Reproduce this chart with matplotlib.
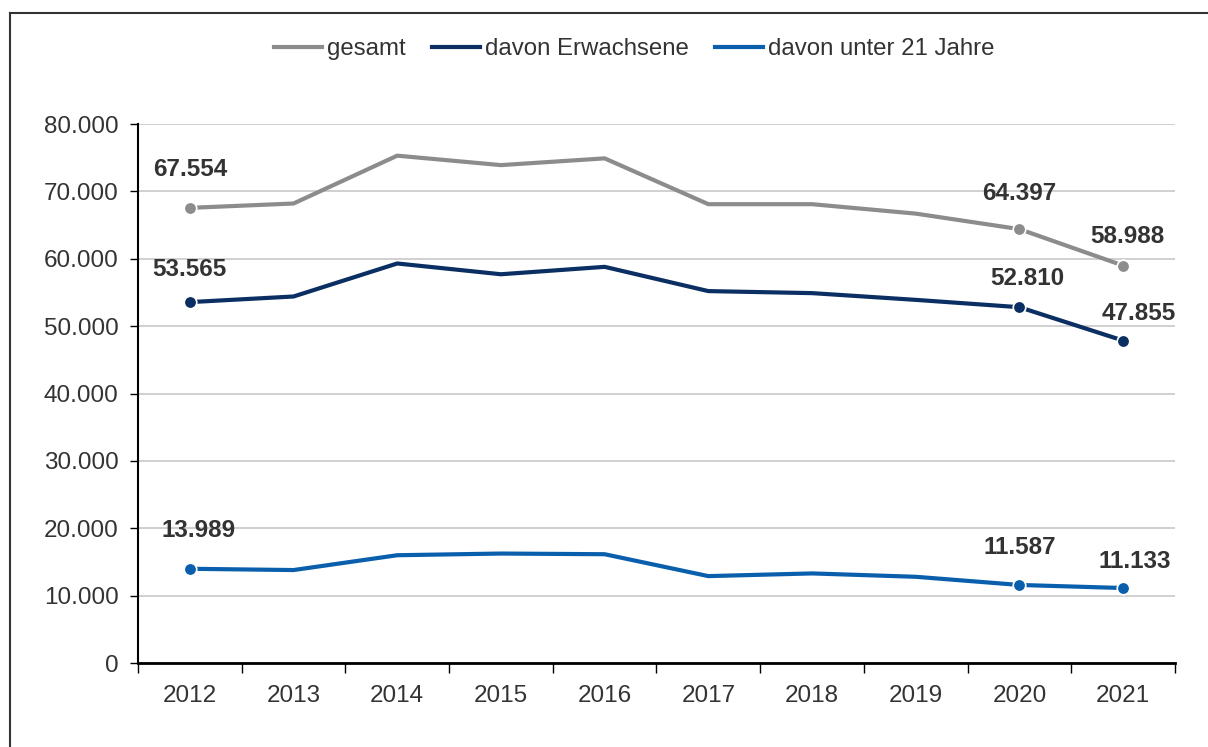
import matplotlib
matplotlib.use('Agg')
import matplotlib.pyplot as plt
from matplotlib.lines import Line2D
from matplotlib.ticker import FuncFormatter
import numpy as np

years = ["2012", "2013", "2014", "2015", "2016", "2017", "2018", "2019", "2020", "2021"]
gesamt = [67554, 68200, 75300, 73900, 74900, 68100, 68100, 66700, 64397, 58988]
erwachsene = [53565, 54400, 59300, 57700, 58800, 55200, 54900, 53900, 52810, 47855]
unter21 = [13989, 13800, 16000, 16250, 16150, 12900, 13300, 12800, 11587, 11133]

series_names = ["gesamt", "davon Erwachsene", "davon unter 21 Jahre"]
colors = ["#8c8c8c", "#0b2f63", "#0a5fad"]
labelled = [0, 8, 9]

# label offsets in points (dx, dy) for the labelled points of each series
label_offsets = [
    [(0, 19.5), (0, 17.5), (3, 13)],
    [(0, 15), (6, 12.5), (11.5, 11.5)],
    [(6.5, 19.5), (0, 19), (8.5, 11)],
]

plt.rcParams['font.family'] = ['Liberation Sans', 'DejaVu Sans']

fig = plt.figure(figsize=(12.08, 7.47), dpi=100)
ax = fig.add_axes([0.1142, 0.1124, 0.8585, 0.7216])

x = np.arange(len(years))
for k, (vals, name, col) in enumerate(zip([gesamt, erwachsene, unter21], series_names, colors)):
    ax.plot(x, vals, color=col, linewidth=3, label=name, zorder=3)
    for j, i in enumerate(labelled):
        ax.plot(x[i], vals[i], 'o', color=col, markersize=9, markeredgecolor='white',
                markeredgewidth=1.2, zorder=4)
        txt = f"{vals[i]:,}".replace(",", ".")
        ax.annotate(txt, (x[i], vals[i]), xytext=label_offsets[k][j],
                    textcoords='offset points', ha='center', va='bottom',
                    fontsize=17.5, fontweight='bold', color='#333333')

ax.set_xlim(-0.5, len(years) - 0.5)
ax.set_ylim(0, 80000)
ax.set_yticks(np.arange(0, 80001, 10000))
ax.yaxis.set_major_formatter(FuncFormatter(lambda v, p: f"{int(v):,}".replace(",", ".")))
ax.grid(axis='y', color='#c8c8c8', linewidth=1.2, zorder=0)
ax.set_axisbelow(True)

ax.set_xticks(x)
ax.set_xticklabels(years)
ax.set_xticks(np.arange(-0.5, len(years), 1), minor=True)
ax.tick_params(axis='x', which='major', length=0, pad=16, labelsize=17.5, labelcolor='#333333')
ax.tick_params(axis='x', which='minor', length=7, width=1, direction='out', color='black')
ax.tick_params(axis='y', length=6, width=1, direction='out', pad=8, labelsize=17.5,
               labelcolor='#333333')

for s in ['top', 'right']:
    ax.spines[s].set_visible(False)
ax.spines['left'].set_linewidth(1.5)
ax.spines['bottom'].set_linewidth(2)

handles = [Line2D([], [], color=c, linewidth=3) for c in colors]
fig.legend(handles, series_names, loc='center', bbox_to_anchor=(0.525, 0.934), ncol=3,
           frameon=False, fontsize=17.3, handlelength=2.0, handletextpad=0.2,
           columnspacing=1.1, labelcolor='#333333')

# outer frame (left and top)
fig.add_artist(Line2D([0.0085, 0.0085], [0, 0.983], transform=fig.transFigure,
                      color='#333333', linewidth=1.5))
fig.add_artist(Line2D([0.0085, 1.0], [0.983, 0.983], transform=fig.transFigure,
                      color='#333333', linewidth=1.5))

fig.savefig("out.png", dpi=100)
